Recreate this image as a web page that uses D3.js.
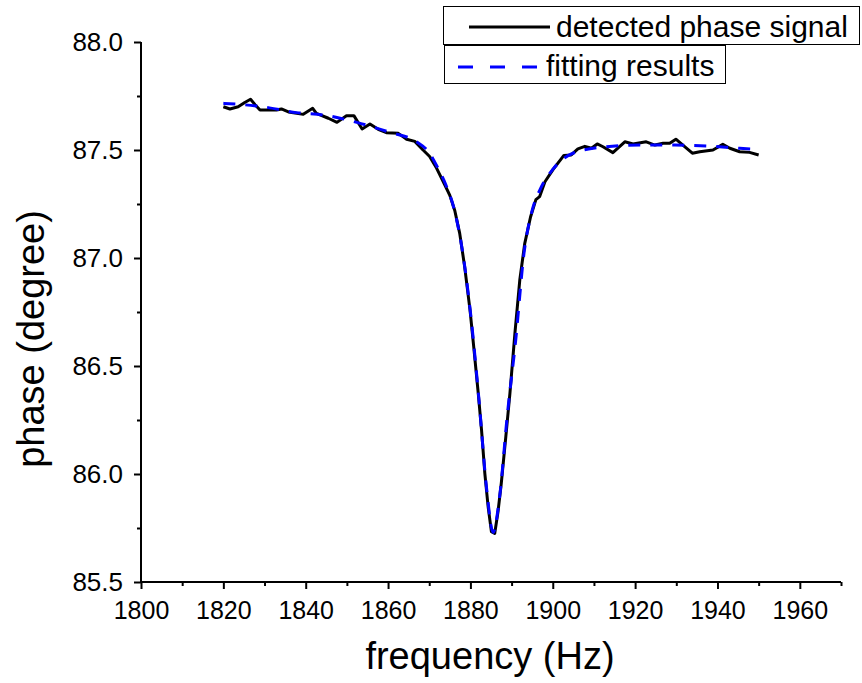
<!DOCTYPE html>
<html>
<head>
<meta charset="utf-8">
<script src="https://cdn.jsdelivr.net/npm/d3@7"></script>
<style>
  body { margin: 0; background: #fff; }
  svg { display: block; font-family: Arial, "Liberation Sans", sans-serif; }
</style>
</head>
<body>
<script>
// measured signal (Hz, degree)
const signalFreq = [1820, 1821.6, 1823.6, 1825.2, 1826.6, 1827.7, 1828.9, 1832.9, 1834.1, 1835.8,
  1839.4, 1841.7, 1842.6, 1845.5, 1847.6, 1849.9, 1851.7, 1853.7, 1855.6, 1857.6,
  1859.6, 1862.5, 1864.5, 1866.5, 1868.5, 1870.1, 1871.8, 1873.8, 1875.0, 1876.2,
  1877.4, 1878.6, 1879.9, 1880.8, 1881.9, 1882.7, 1883.5, 1884.3, 1885.1, 1885.9,
  1886.7, 1887.5, 1888.6, 1889.6, 1890.8, 1892.0, 1893.2, 1894.6, 1895.9, 1896.8,
  1898.1, 1900.1, 1902.7, 1904.5, 1906.1, 1907.8, 1909.4, 1910.8, 1912.2, 1914.6,
  1917.5, 1919.5, 1922.7, 1924.8, 1926.8, 1928.4, 1929.9, 1931.6, 1933.9, 1935.7,
  1938.9, 1941.3, 1943.0, 1945.4, 1947.8, 1950];
const signalPhase = [87.70, 87.69, 87.70, 87.72, 87.735, 87.71, 87.685, 87.685, 87.69, 87.676,
  87.665, 87.693, 87.67, 87.647, 87.628, 87.659, 87.659, 87.597, 87.62, 87.596,
  87.58, 87.577, 87.55, 87.54, 87.50, 87.47, 87.415, 87.338, 87.29, 87.22,
  87.114, 86.96, 86.76, 86.59, 86.374, 86.204, 86.003, 85.849, 85.733, 85.725,
  85.825, 85.957, 86.173, 86.374, 86.65, 86.90, 87.068, 87.19, 87.27, 87.284,
  87.353, 87.41, 87.475, 87.477, 87.505, 87.517, 87.508, 87.528, 87.515, 87.488,
  87.538, 87.528, 87.538, 87.523, 87.531, 87.531, 87.55, 87.523, 87.485, 87.492,
  87.50, 87.526, 87.508, 87.492, 87.489, 87.477];

// fitted curve
const fitFreq = [1820, 1829.7, 1837.8, 1844.3, 1852.4, 1860.4, 1866.9, 1870.1, 1872, 1874,
  1876, 1878, 1880, 1882, 1884, 1885.5, 1887, 1889, 1891, 1893,
  1895, 1897, 1900, 1904.9, 1913, 1921.1, 1929.2, 1937.3, 1945.4, 1950];
const fitPhase = [87.716, 87.70, 87.673, 87.662, 87.628, 87.582, 87.538, 87.485, 87.42, 87.34,
  87.23, 87.04, 86.75, 86.36, 85.92, 85.73, 85.88, 86.28, 86.62, 87.02,
  87.22, 87.32, 87.41, 87.485, 87.515, 87.523, 87.523, 87.519, 87.508, 87.503];

const xMajor = [1800, 1820, 1840, 1860, 1880, 1900, 1920, 1940, 1960];
const xMinor = [1810, 1830, 1850, 1870, 1890, 1910, 1930, 1950, 1970];
const yMajor = [85.5, 86.0, 86.5, 87.0, 87.5, 88.0];
const yMinor = [85.75, 86.25, 86.75, 87.25, 87.75];

const legendLabels = ["detected phase signal", "fitting results"];

const W = 862, H = 683;
const svg = d3.select("body").append("svg")
    .attr("width", W)
    .attr("height", H);

const x = d3.scaleLinear().domain([1800, 1970]).range([141, 841]);
const y = d3.scaleLinear().domain([85.5, 88.0]).range([582, 42]);

// axes
const xAxis = svg.append("g")
    .attr("transform", `translate(0,${y(85.5)})`)
    .call(d3.axisBottom(x).tickValues(xMajor).tickSize(7).tickPadding(12).tickFormat(d3.format("d")));
svg.append("g")
    .attr("transform", `translate(0,${y(85.5)})`)
    .call(d3.axisBottom(x).tickValues(xMinor).tickSize(4).tickFormat(""))
    .call(g => g.select(".domain").remove());

const yAxis = svg.append("g")
    .attr("transform", `translate(${x(1800)},0)`)
    .call(d3.axisLeft(y).tickValues(yMajor).tickSize(7).tickPadding(11).tickFormat(d3.format(".1f")));
svg.append("g")
    .attr("transform", `translate(${x(1800)},0)`)
    .call(d3.axisLeft(y).tickValues(yMinor).tickSize(4).tickFormat(""))
    .call(g => g.select(".domain").remove());

svg.selectAll(".domain").attr("stroke", "#000").attr("stroke-width", 2);
svg.selectAll(".tick line").attr("stroke", "#000").attr("stroke-width", 2);
svg.selectAll(".tick text").attr("font-size", 25).attr("fill", "#000")
    .attr("font-family", "Arial, 'Liberation Sans', sans-serif");
xAxis.selectAll(".tick text").attr("dy", "0.71em");
yAxis.selectAll(".tick text").attr("font-size", 26);
// plain axis lines without outer end ticks
xAxis.select(".domain").attr("d", `M${x(1800)},0H${x(1970)}`);
yAxis.select(".domain").attr("d", `M0,${y(85.5)}V${y(88.0)}`);

// axis titles
svg.append("text")
    .attr("x", 490)
    .attr("y", 669)
    .attr("text-anchor", "middle")
    .attr("font-size", 38)
    .text("frequency (Hz)");

svg.append("text")
    .attr("transform", "translate(44,339) rotate(-90)")
    .attr("text-anchor", "middle")
    .attr("font-size", 38)
    .text("phase (degree)");

// series
const line = d3.line().x(d => x(d[0])).y(d => y(d[1]));

svg.append("path")
    .datum(d3.zip(signalFreq, signalPhase))
    .attr("fill", "none")
    .attr("stroke", "#000")
    .attr("stroke-width", 3)
    .attr("stroke-linejoin", "round")
    .attr("d", line);

svg.append("path")
    .datum(d3.zip(fitFreq, fitPhase))
    .attr("fill", "none")
    .attr("stroke", "#0000ff")
    .attr("stroke-width", 3)
    .attr("stroke-dasharray", "12,10")
    .attr("d", line.curve(d3.curveMonotoneX));

// legend
const lg = svg.append("g");
lg.append("rect").attr("x", 443.5).attr("y", 6.5).attr("width", 416).attr("height", 38)
    .attr("fill", "#fff").attr("stroke", "#000").attr("stroke-width", 1);
lg.append("rect").attr("x", 444.5).attr("y", 45.5).attr("width", 281).attr("height", 38)
    .attr("fill", "#fff").attr("stroke", "#000").attr("stroke-width", 1);
lg.append("line").attr("x1", 469).attr("x2", 550).attr("y1", 27).attr("y2", 27)
    .attr("stroke", "#000").attr("stroke-width", 3);
lg.append("line").attr("x1", 458).attr("x2", 538).attr("y1", 67).attr("y2", 67)
    .attr("stroke", "#0000ff").attr("stroke-width", 3).attr("stroke-dasharray", "15,17");
lg.append("text").attr("x", 556).attr("y", 37).attr("font-size", 30).text(legendLabels[0]);
lg.append("text").attr("x", 546).attr("y", 76).attr("font-size", 30).text(legendLabels[1]);
</script>
</body>
</html>
